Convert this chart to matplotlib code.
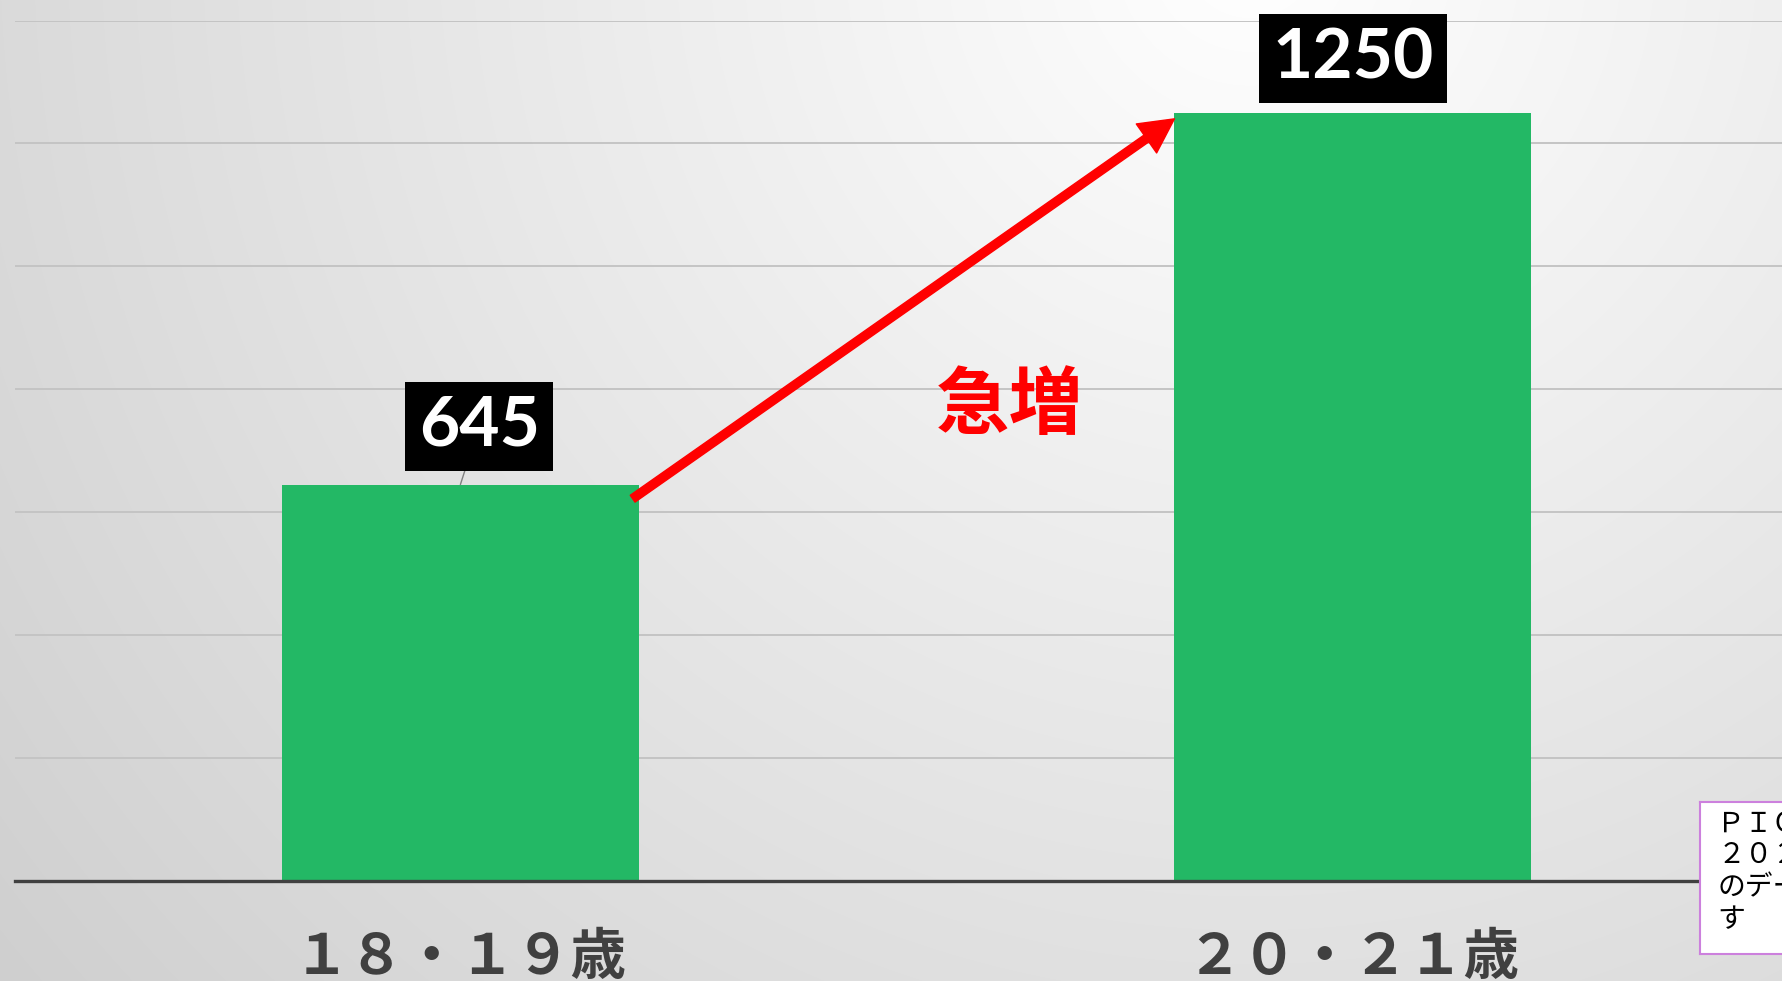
import numpy as np
import matplotlib.pyplot as plt

plt.rcParams['font.family'] = ['Noto Sans CJK JP', 'DejaVu Sans']

# data
categories = ['１８・１９歳', '２０・２１歳']
values = [645, 1250]
value_labels = ['645', '1250']
note_text = 'ＰＩＯ－ＮＥＴ\n２０２２年度\nのデータで\nす'

W, H = 1782, 981
fig = plt.figure(figsize=(W / 100, H / 100), dpi=100)

# background gradient (bright near top right, grey toward the corners)
bg = fig.add_axes([0, 0, 1, 1], zorder=-10)
yy, xx = np.mgrid[0:H, 0:W]
d = np.hypot(xx - 1250, yy + 50)
v = np.clip(255 - 0.0296 * d, 200, 255) / 255.0
bg.imshow(np.dstack([v, v, v]), aspect='auto', interpolation='bilinear')
bg.axis('off')

ax = fig.add_axes([15 / W, 1 - 881 / H, 1 - 15 / W, (881 - 20.5) / H])
ax.patch.set_alpha(0)
x = np.arange(len(categories))
width = 0.4
bars = ax.bar(x, values, width=width, color='#23b865', zorder=2)

ax.set_xlim(-0.499, 1.4807)
ax.set_ylim(0, 1400)
ax.set_yticks(range(0, 1401, 200))
ax.yaxis.grid(True, color='#c4c4c4', lw=1.4)
ax.set_axisbelow(True)
ax.tick_params(axis='y', left=False, labelleft=False)
ax.tick_params(axis='x', length=0, pad=35, labelsize=40, labelcolor='#404040')
ax.set_xticks(x)
ax.set_xticklabels(categories, fontweight='bold')
for s in ['left', 'right', 'top']:
    ax.spines[s].set_visible(False)
ax.spines['bottom'].set_color('#404040')
ax.spines['bottom'].set_linewidth(2.4)
ax.spines['bottom'].set_zorder(3)

# value labels in black boxes
offsets = [(13.5, 42), (0, 39)]
for i, (lab, off) in enumerate(zip(value_labels, offsets)):
    ax.annotate(lab, xy=(x[i], values[i]), xytext=off, textcoords='offset points',
                ha='center', va='center', color='white', fontsize=50,
                fontweight='bold', family=['Lato', 'DejaVu Sans'],
                bbox=dict(boxstyle='square,pad=0.19', fc='black', ec='none'),
                arrowprops=dict(arrowstyle='-', color='#808080', lw=1,
                                shrinkA=0, shrinkB=0) if i == 0 else None,
                zorder=5)

# red arrow between the bars
ax.annotate('', xy=(x[1] - width / 2, values[1] - 10),
            xytext=(x[0] + width / 2 - 0.007, values[0] - 23),
            arrowprops=dict(arrowstyle='simple,head_length=0.82,head_width=0.85,tail_width=0.2',
                            color='red', mutation_scale=30, shrinkA=0, shrinkB=0),
            zorder=6)
ax.text(0.615, 772, '急増', color='red', fontsize=53, fontweight='bold',
        ha='center', va='center', zorder=6)

# note box at bottom right (cut off by the edge)
nb = fig.add_axes([1700 / W, 1 - 954 / H, 0.12, 152 / H])
nb.set_xticks([])
nb.set_yticks([])
nb.set_facecolor('white')
for s in nb.spines.values():
    s.set_color('#cc80dd')
    s.set_linewidth(1.5)
nb.text(0.08, 0.955, note_text, transform=nb.transAxes, ha='left', va='top',
        fontsize=20, linespacing=1.07, color='black', clip_on=True)

fig.savefig('out.png', dpi=100)
